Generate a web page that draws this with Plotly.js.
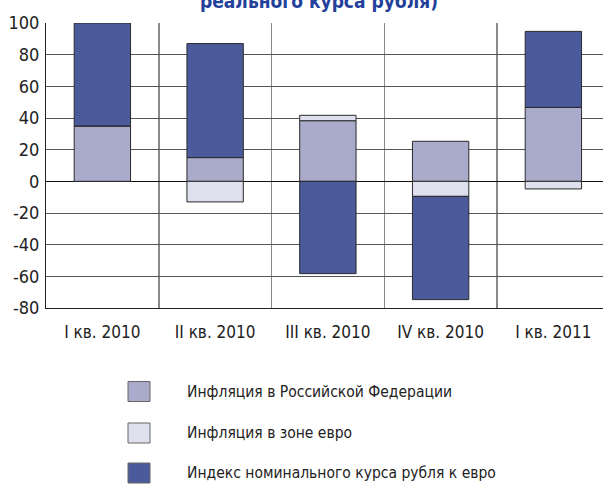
<!DOCTYPE html>
<html>
<head>
<meta charset="utf-8">
<script src="https://cdn.plot.ly/plotly-3.0.1.min.js"></script>
<style>html,body{margin:0;padding:0;background:#fff;overflow:hidden}</style>
</head>
<body>
<div id="chart" style="width:603px;height:486px"></div>
<script>
// ---- data ----
const quarters = ["I кв. 2010", "II кв. 2010", "III кв. 2010", "IV кв. 2010", "I кв. 2011"];
const inflationRussia = [35, 15, 38.3, 25.3, 46.7];
const inflationEuro = [0, -13, 3.4, -9.5, -4.8];
const nominalIndex = [65, 72, -58.3, -65.2, 48];
const seriesNames = ["Инфляция в Российской Федерации", "Инфляция в зоне евро", "Индекс номинального курса рубля к евро"];
const yTicks = [100, 80, 60, 40, 20, 0, -20, -40, -60, -80];
const titleText = "реального курса рубля)";

const colors = ["#aaaacb", "#dfe0ee", "#4a5a9b"];
const FONT = "'Liberation Sans Narrow', 'Arial Narrow', 'DejaVu Sans Condensed', sans-serif";

const seriesValues = [inflationRussia, inflationEuro, nominalIndex];
const traces = seriesValues.map((vals, i) => ({
  type: "bar",
  x: quarters,
  y: vals,
  name: seriesNames[i],
  marker: {color: colors[i], line: {color: "#2a2a2a", width: 1}},
  width: 0.5,
  showlegend: false,
  hoverinfo: "skip"
}));

// layout geometry
const W = 603, H = 486, mL = 46, mR = 0, mT = 23, mB = 178;
const pw = W - mL - mR, ph = H - mT - mB;
const px2x = p => (p - mL) / pw;
const py2y = p => (H - mB - p) / ph;

const legendRows = [391.5, 433, 473];
const shapes = [];
const annotations = [];
seriesNames.forEach((n, i) => {
  const cy = legendRows[i];
  shapes.push({type: "rect", xref: "paper", yref: "paper",
    x0: px2x(128), x1: px2x(150), y0: py2y(cy + 10), y1: py2y(cy - 10),
    fillcolor: colors[i], line: {color: "#666", width: 1}});
  annotations.push({xref: "paper", yref: "paper", x: px2x(185), y: py2y(cy),
    xanchor: "left", yanchor: "middle", showarrow: false, text: n,
    font: {family: FONT, size: 15.5, color: "#222"}});
});
annotations.push({xref: "paper", yref: "paper", x: px2x(319), y: py2y(1),
  xanchor: "center", yanchor: "middle", showarrow: false, text: "<b>" + titleText + "</b>",
  font: {family: FONT, size: 19, color: "#23419a"}});

const layout = {
  width: W, height: H,
  margin: {l: mL, r: mR, t: mT, b: mB, pad: 0},
  paper_bgcolor: "#fff", plot_bgcolor: "#fff",
  barmode: "relative",
  showlegend: false,
  xaxis: {
    type: "category",
    range: [-0.5, -0.5 + pw / 112.75],
    tickson: "boundaries",
    showgrid: true, gridcolor: "#8a8a8a", gridwidth: 1.5,
    ticks: "", ticklabelstandoff: 9,
    tickfont: {family: FONT, size: 17, color: "#222"},
    showline: true, linecolor: "#222", linewidth: 1,
    zeroline: false, fixedrange: true
  },
  yaxis: {
    range: [-80, 100],
    tickvals: yTicks,
    ticktext: yTicks.map(String),
    showgrid: true, gridcolor: "#555", gridwidth: 1,
    zeroline: true, zerolinecolor: "#111", zerolinewidth: 1.2,
    showline: true, linecolor: "#222", linewidth: 1,
    ticks: "", ticklabelstandoff: 2,
    tickfont: {family: FONT, size: 18, color: "#222"},
    fixedrange: true
  },
  shapes: shapes,
  annotations: annotations
};

Plotly.newPlot("chart", traces, layout, {displayModeBar: false, staticPlot: true});
</script>
</body>
</html>
